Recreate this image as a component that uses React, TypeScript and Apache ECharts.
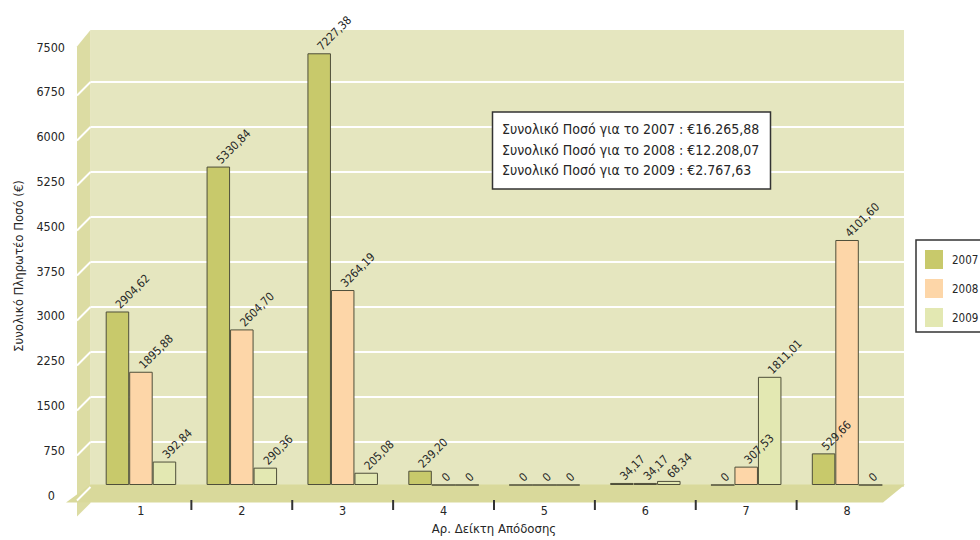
import React, { useEffect, useRef } from "react";
import * as echarts from "echarts";

const categories = ["1", "2", "3", "4", "5", "6", "7", "8"];
const years = ["2007", "2008", "2009"];
const values2007 = [2904.62, 5330.84, 7227.38, 239.2, 0, 34.17, 0, 529.66];
const values2008 = [1895.88, 2604.7, 3264.19, 0, 0, 34.17, 307.53, 4101.6];
const values2009 = [392.84, 290.36, 205.08, 0, 0, 68.34, 1811.01, 0];
const totals = ["€16.265,88", "€12.208,07", "€2.767,63"];
const yTickValues = [0, 750, 1500, 2250, 3000, 3750, 4500, 5250, 6000, 6750, 7500];
const Y_MAX = 7500;
const Y_INTERVAL = 750;

const FONT = '"Liberation Sans Narrow", "Arial Narrow", "DejaVu Sans Condensed", sans-serif';
const COLORS = ["#c8c96b", "#fdd6a8", "#e3e8b2"];
const WALL = "#e5e6bf";
const SIDE = "#dcdca3";
const FLOOR = "#d9d99b";
const TEXT = "#262626";

// layout (pixels)
const W = 980;
const H = 540;
const GL = 90.5;
const GR = 897.5;
const GT = 37;
const GB = 487;
const WALL_R = 904;
const WALL_T = 30;
const D = 13.5;

const fmt = (v: number) => (v === 0 ? "0" : v.toFixed(2).replace(".", ","));

export default function App() {
  const ref = useRef<HTMLDivElement>(null);

  useEffect(() => {
    document.body.style.margin = "0";
    if (!ref.current) return;
    const chart = echarts.init(ref.current, null, { renderer: "svg" });

    const yPix = (v: number) => GB - ((GB - GT) * v) / Y_MAX;
    const bandW = (GR - GL) / categories.length;

    const graphics: any[] = [];
    graphics.push({
      type: "rect",
      z: -3,
      shape: { x: GL, y: WALL_T, width: WALL_R - GL, height: GB - WALL_T },
      style: { fill: WALL },
      silent: true,
    });
    yTickValues
      .filter((v) => v > 0 && v < Y_MAX)
      .forEach((v) => {
        graphics.push({
          type: "line",
          z: -2,
          shape: { x1: GL, y1: yPix(v), x2: WALL_R, y2: yPix(v) },
          style: { stroke: "#ffffff", lineWidth: 2 },
          silent: true,
        });
      });
    graphics.push({
      type: "polygon",
      z: -3,
      shape: {
        points: [
          [GL, WALL_T],
          [GL, GB + 16],
          [GL - D, GB + 16 + D],
          [GL - D, WALL_T + D + 3],
        ],
      },
      style: { fill: SIDE },
      silent: true,
    });
    graphics.push({
      type: "polygon",
      z: 1,
      shape: {
        points: [
          [GL, GB - 2.5],
          [WALL_R + 1, GB - 2.5],
          [WALL_R - 21, GB + 15.5],
          [GL - 24.5, GB + 15.5],
        ],
      },
      style: { fill: FLOOR },
      silent: true,
    });
    yTickValues
      .filter((v) => v < Y_MAX)
      .forEach((v) => {
        graphics.push({
          type: "line",
          z: 1,
          shape: { x1: GL, y1: yPix(v), x2: GL - D, y2: yPix(v) + D },
          style: { stroke: "#ffffff", lineWidth: 2 },
          silent: true,
        });
      });
    for (let i = 1; i < categories.length; i++) {
      const x = GL + i * bandW;
      graphics.push({
        type: "line",
        z: 3,
        shape: { x1: x, y1: GB + 13, x2: x, y2: GB + 23 },
        style: { stroke: "#333333", lineWidth: 2 },
        silent: true,
      });
    }
    graphics.push({
      type: "rect",
      z: 5,
      shape: { x: 492.5, y: 112, width: 278, height: 77 },
      style: { fill: "#ffffff", stroke: "#333333", lineWidth: 1.5 },
      silent: true,
    });
    graphics.push({
      type: "text",
      z: 6,
      x: 502,
      y: 119,
      style: {
        text: years.map((y, i) => `Συνολικό Ποσό για το ${y} : ${totals[i]}`).join("\n"),
        fontSize: 14,
        fontFamily: FONT,
        lineHeight: 20.5,
        fill: TEXT,
        verticalAlign: "top",
      },
      silent: true,
    });

    const seriesData = [values2007, values2008, values2009];

    chart.setOption({
      animation: false,
      textStyle: { fontFamily: FONT },
      grid: {
        left: GL,
        right: W - GR,
        top: GT,
        bottom: H - GB,
        containLabel: false,
      },
      legend: {
        orient: "vertical",
        left: 916,
        top: 240,
        data: years,
        itemWidth: 18,
        itemHeight: 19,
        itemGap: 10,
        padding: [10, 30, 5, 9],
        borderColor: "#333333",
        borderWidth: 1.5,
        backgroundColor: "#ffffff",
        icon: "rect",
        itemStyle: { borderWidth: 0 },
        textStyle: {
          fontFamily: FONT,
          fontSize: 11.5,
          color: TEXT,
          padding: [0, 0, 0, 4],
        },
      },
      xAxis: {
        type: "category",
        data: categories,
        axisLine: { show: false },
        axisTick: { show: false },
        splitLine: { show: false },
        axisLabel: {
          margin: 19,
          fontSize: 12.5,
          fontFamily: FONT,
          color: TEXT,
        },
        name: "Αρ. Δείκτη Απόδοσης",
        nameLocation: "middle",
        nameGap: 37,
        nameTextStyle: { fontSize: 13, fontFamily: FONT, color: TEXT },
      },
      yAxis: {
        type: "value",
        min: 0,
        max: Y_MAX,
        interval: Y_INTERVAL,
        axisLine: { show: false },
        axisTick: { show: false },
        splitLine: { show: false },
        axisLabel: {
          margin: 25.5,
          fontSize: 12.5,
          fontFamily: FONT,
          color: TEXT,
          padding: [20, 0, 0, 0],
          formatter: (v: number) => (v === 0 ? "{z|0}" : String(v)),
          rich: {
            z: { fontSize: 12.5, fontFamily: FONT, color: TEXT, padding: [0, 10, 0, 0] },
          },
        },
        name: "Συνολικό Πληρωτέο Ποσό (€)",
        nameLocation: "middle",
        nameGap: 66,
        nameTextStyle: {
          fontSize: 13,
          fontFamily: FONT,
          color: TEXT,
          padding: [0, 10, 0, 0],
        },
      },
      graphic: { elements: graphics },
      series: years.map((y, i) => ({
        name: y,
        type: "bar",
        data: seriesData[i],
        barWidth: 23.5,
        barGap: "0%",
        z: 2,
        itemStyle: {
          color: COLORS[i],
          borderColor: "#4f4f3a",
          borderWidth: 1,
        },
        label: {
          show: true,
          position: "top",
          distance: 5,
          rotate: 45,
          align: "left",
          verticalAlign: "middle",
          fontSize: 11.5,
          fontFamily: FONT,
          color: TEXT,
          formatter: (p: any) => fmt(p.value as number),
        },
      })),
    });

    return () => {
      chart.dispose();
    };
  }, []);

  return <div ref={ref} style={{ width: W, height: H }} />;
}
